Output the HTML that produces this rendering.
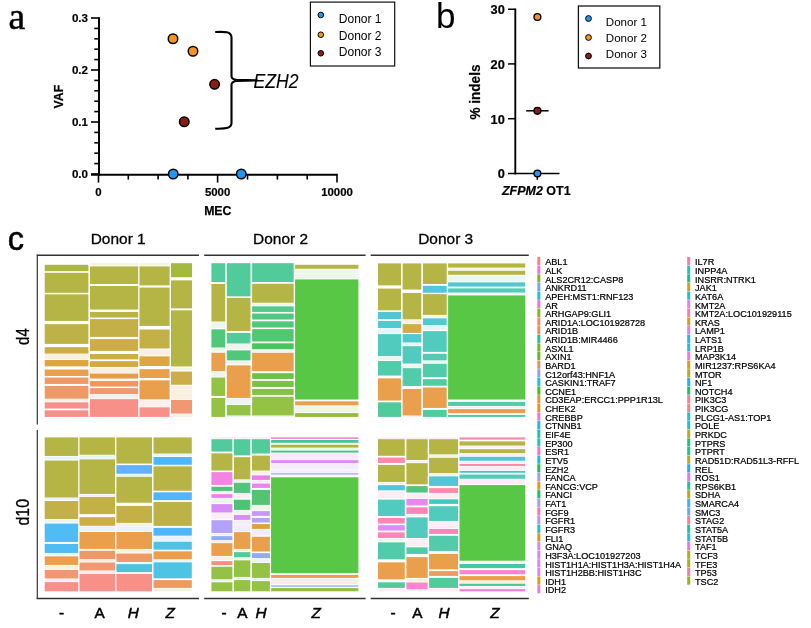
<!DOCTYPE html>
<html lang="en"><head><meta charset="utf-8"><title>Figure</title>
<style>html,body{margin:0;padding:0;background:#fff}svg{display:block}text{font-family:"Liberation Sans",sans-serif;fill:#000}.b{font-weight:bold}.i{font-style:italic}.g{font-size:9.15px;stroke:#000;stroke-width:0.22px}</style></head><body>
<svg width="811" height="628" viewBox="0 0 811 628">
<rect width="811" height="628" fill="#fff"/>
<text x="8.4" y="29" style="font-family:'Liberation Serif',serif;font-size:37.5px;stroke:#000;stroke-width:0.5px">a</text>
<g stroke="#000" stroke-width="1.6" fill="none">
<path d="M99.0,17.3V175.6" stroke-width="2"/>
<path d="M91,174.75H337.75" stroke-width="1.9"/>
<path d="M91,18.00H99.0"/>
<path d="M91,70.00H99.0"/>
<path d="M91,122.00H99.0"/>
<path d="M91,174.00H99.0"/>
<path d="M94.3,28.40H99.0"/>
<path d="M94.3,38.80H99.0"/>
<path d="M94.3,49.20H99.0"/>
<path d="M94.3,59.60H99.0"/>
<path d="M94.3,80.40H99.0"/>
<path d="M94.3,90.80H99.0"/>
<path d="M94.3,101.20H99.0"/>
<path d="M94.3,111.60H99.0"/>
<path d="M94.3,132.40H99.0"/>
<path d="M94.3,142.80H99.0"/>
<path d="M94.3,153.20H99.0"/>
<path d="M94.3,163.60H99.0"/>
<path d="M98.5,174.75V182.6"/>
<path d="M217.6,174.75V182.6"/>
<path d="M337,174.75V182.6"/>
<path d="M128.3,174.75V179.6"/>
<path d="M158.1,174.75V179.6"/>
<path d="M187.9,174.75V179.6"/>
<path d="M247.5,174.75V179.6"/>
<path d="M277.4,174.75V179.6"/>
<path d="M307.2,174.75V179.6"/>
</g>
<text class="b" x="88" y="21.9" text-anchor="end" font-size="11.6" stroke="#000" stroke-width="0.2">0.3</text>
<text class="b" x="88" y="73.9" text-anchor="end" font-size="11.6" stroke="#000" stroke-width="0.2">0.2</text>
<text class="b" x="88" y="125.9" text-anchor="end" font-size="11.6" stroke="#000" stroke-width="0.2">0.1</text>
<text class="b" x="88" y="177.9" text-anchor="end" font-size="11.6" stroke="#000" stroke-width="0.2">0.0</text>
<text class="b" x="98.5" y="195.6" text-anchor="middle" font-size="11.4" stroke="#000" stroke-width="0.2">0</text>
<text class="b" x="217.6" y="195.6" text-anchor="middle" font-size="11.4" stroke="#000" stroke-width="0.2">5000</text>
<text class="b" x="337" y="195.6" text-anchor="middle" font-size="11.4" stroke="#000" stroke-width="0.2">10000</text>
<text class="b" x="217.8" y="215" text-anchor="middle" font-size="12.3" stroke="#000" stroke-width="0.25">MEC</text>
<text class="b" transform="translate(63.2,96.6) rotate(-90)" text-anchor="middle" font-size="12.3" stroke="#000" stroke-width="0.25">VAF</text>
<path d="M215.2,32 C224,31.6 231.5,31.2 231.5,37.5 V76.5 Q231.7,79.3 236.5,79.8 L257,80.4 L236.5,81 Q231.7,81.6 231.5,84.5 V123 C231.5,129 224,128.4 215.2,128.8" fill="none" stroke="#000" stroke-width="2.1" stroke-linejoin="round" stroke-linecap="butt"/>
<text class="i" x="253.6" y="87.9" font-size="20" textLength="45" lengthAdjust="spacingAndGlyphs" stroke="#000" stroke-width="0.15">EZH2</text>
<circle cx="173" cy="38.75" r="4.75" fill="#f7941d" stroke="#000" stroke-width="1.5"/>
<circle cx="193" cy="51.25" r="4.75" fill="#f7941d" stroke="#000" stroke-width="1.5"/>
<circle cx="214.6" cy="84.3" r="4.75" fill="#8c1c12" stroke="#000" stroke-width="1.5"/>
<circle cx="184.25" cy="121.75" r="4.75" fill="#8c1c12" stroke="#000" stroke-width="1.5"/>
<circle cx="173.25" cy="174" r="4.75" fill="#2196f3" stroke="#000" stroke-width="1.5"/>
<circle cx="241.25" cy="174" r="4.75" fill="#2196f3" stroke="#000" stroke-width="1.5"/>
<rect x="310.4" y="2.1" width="84.3" height="63.9" fill="#fff" stroke="#111" stroke-width="1.2"/>
<circle cx="320.8" cy="15" r="2.8" fill="#2196f3" stroke="#000" stroke-width="1"/>
<text x="338.8" y="23.3" font-size="12">Donor 1</text>
<circle cx="320.8" cy="34.75" r="2.8" fill="#f7941d" stroke="#000" stroke-width="1"/>
<text x="338.8" y="39.5" font-size="12">Donor 2</text>
<circle cx="320.8" cy="53.25" r="2.8" fill="#8c1c12" stroke="#000" stroke-width="1"/>
<text x="338.8" y="55.6" font-size="12">Donor 3</text>
<text x="436" y="28" font-size="35">b</text>
<g stroke="#000" stroke-width="1.5" fill="none">
<path d="M515.3,8.5V174.4" stroke-width="1.9"/>
<path d="M508,173.5H559.5" stroke-width="1.7"/>
<path d="M508,9.25H515.3"/>
<path d="M508,63.9H515.3"/>
<path d="M508,118.7H515.3"/>
<path d="M537.3,173.5V179.8"/>
</g>
<text class="b" x="504.8" y="14.1" text-anchor="end" font-size="12.8" stroke="#000" stroke-width="0.2">30</text>
<text class="b" x="504.8" y="68.7" text-anchor="end" font-size="12.8" stroke="#000" stroke-width="0.2">20</text>
<text class="b" x="504.8" y="123.5" text-anchor="end" font-size="12.8" stroke="#000" stroke-width="0.2">10</text>
<text class="b" x="504.8" y="178.1" text-anchor="end" font-size="12.8" stroke="#000" stroke-width="0.2">0</text>
<text class="b" transform="translate(479.9,119.4) rotate(-90)" font-size="14.8" textLength="54.8" lengthAdjust="spacingAndGlyphs" stroke="#000" stroke-width="0.2">% indels</text>
<text class="b" x="502" y="194.6" font-size="12" textLength="68.6" lengthAdjust="spacingAndGlyphs" stroke="#000" stroke-width="0.2"><tspan class="i">ZFPM2</tspan> OT1</text>
<path d="M526.2,110.8H548.6" stroke="#000" stroke-width="1.5"/>
<circle cx="537.4" cy="17" r="3.4" fill="#f7941d" stroke="#000" stroke-width="1.4"/>
<circle cx="537.4" cy="110.8" r="3.4" fill="#8c1c12" stroke="#000" stroke-width="1.4"/>
<circle cx="537.4" cy="173.5" r="3.4" fill="#2196f3" stroke="#000" stroke-width="1.4"/>
<rect x="578.4" y="6" width="81.4" height="62" fill="#fff" stroke="#111" stroke-width="1.25"/>
<circle cx="588.5" cy="18.5" r="2.9" fill="#2196f3" stroke="#000" stroke-width="1"/>
<text x="605.8" y="26.2" font-size="11.6">Donor 1</text>
<circle cx="588.5" cy="37.5" r="2.9" fill="#f7941d" stroke="#000" stroke-width="1"/>
<text x="605.8" y="41.9" font-size="11.6">Donor 2</text>
<circle cx="588.5" cy="56" r="2.9" fill="#8c1c12" stroke="#000" stroke-width="1"/>
<text x="605.8" y="57.7" font-size="11.6">Donor 3</text>
<text x="7.8" y="249.6" font-size="32.5" stroke="#000" stroke-width="0.55">c</text>
<text x="118.2" y="244.3" text-anchor="middle" font-size="15.4" textLength="55" lengthAdjust="spacingAndGlyphs" stroke="#000" stroke-width="0.3">Donor 1</text>
<text x="280.6" y="244.3" text-anchor="middle" font-size="15.4" textLength="55" lengthAdjust="spacingAndGlyphs" stroke="#000" stroke-width="0.3">Donor 2</text>
<text x="445.7" y="244.3" text-anchor="middle" font-size="15.4" textLength="55" lengthAdjust="spacingAndGlyphs" stroke="#000" stroke-width="0.3">Donor 3</text>
<g stroke="#333" stroke-width="1.2" fill="none">
<path d="M37.3,254.7V424.6"/><path d="M37.3,430V599"/>
<path d="M36.7,255.35H199" stroke-width="1.5"/><path d="M36.7,598.5H199" stroke-width="1.3"/>
<path d="M204.2,255.35H365.6" stroke-width="1.5"/><path d="M204.2,598.5H365.6" stroke-width="1.3"/>
<path d="M370.7,255.35H528.8" stroke-width="1.5"/><path d="M370.7,598.5H528.8" stroke-width="1.3"/>
</g>
<text transform="translate(29.3,344.9) rotate(-90)" font-size="18" textLength="16.6" lengthAdjust="spacingAndGlyphs" stroke="#000" stroke-width="0.3">d4</text>
<text transform="translate(29.3,525.5) rotate(-90)" font-size="18" textLength="26.6" lengthAdjust="spacingAndGlyphs" stroke="#000" stroke-width="0.3">d10</text>
<text x="61.6" y="617.6" text-anchor="middle" font-size="15.3" stroke="#000" stroke-width="0.5">-</text>
<text x="99.5" y="617.6" text-anchor="middle" font-size="15.3" stroke="#000" stroke-width="0.5">A</text>
<text class="i" x="133.3" y="617.6" text-anchor="middle" font-size="15.3" stroke="#000" stroke-width="0.5">H</text>
<text class="i" x="170.2" y="617.6" text-anchor="middle" font-size="15.3" stroke="#000" stroke-width="0.5">Z</text>
<text x="224" y="617.6" text-anchor="middle" font-size="15.3" stroke="#000" stroke-width="0.5">-</text>
<text x="242.4" y="617.6" text-anchor="middle" font-size="15.3" stroke="#000" stroke-width="0.5">A</text>
<text class="i" x="261" y="617.6" text-anchor="middle" font-size="15.3" stroke="#000" stroke-width="0.5">H</text>
<text class="i" x="316.3" y="617.6" text-anchor="middle" font-size="15.3" stroke="#000" stroke-width="0.5">Z</text>
<text x="393" y="617.6" text-anchor="middle" font-size="15.3" stroke="#000" stroke-width="0.5">-</text>
<text x="417.4" y="617.6" text-anchor="middle" font-size="15.3" stroke="#000" stroke-width="0.5">A</text>
<text class="i" x="444" y="617.6" text-anchor="middle" font-size="15.3" stroke="#000" stroke-width="0.5">H</text>
<text class="i" x="495" y="617.6" text-anchor="middle" font-size="15.3" stroke="#000" stroke-width="0.5">Z</text>
<g shape-rendering="auto">
<rect x="44.70" y="264.79" width="43.70" height="6.39" fill="#aab741"/>
<rect x="44.70" y="272.78" width="43.70" height="19.98" fill="#b5b545"/>
<rect x="44.70" y="294.36" width="43.70" height="26.57" fill="#b5b545"/>
<rect x="44.70" y="324.12" width="43.70" height="19.78" fill="#bdb247"/>
<rect x="44.70" y="347.19" width="43.70" height="6.39" fill="#ccad47"/>
<rect x="44.70" y="353.98" width="43.70" height="5.39" fill="#f9f0e2"/>
<rect x="44.70" y="359.98" width="43.70" height="6.39" fill="#dca644"/>
<rect x="44.70" y="369.56" width="43.70" height="6.39" fill="#e99f4b"/>
<rect x="44.70" y="377.55" width="43.70" height="6.39" fill="#ef9a66"/>
<rect x="44.70" y="385.94" width="43.70" height="12.78" fill="#ef9a66"/>
<rect x="44.70" y="399.13" width="43.70" height="2.40" fill="#fdefeb"/>
<rect x="44.70" y="402.33" width="43.70" height="6.19" fill="#f8908a"/>
<rect x="44.70" y="410.32" width="43.70" height="6.59" fill="#f8908a"/>
<rect x="90.00" y="262.80" width="48.20" height="2.80" fill="#f3f5e4"/>
<rect x="90.00" y="266.39" width="48.20" height="17.58" fill="#b5b545"/>
<rect x="90.00" y="285.97" width="48.20" height="23.57" fill="#b5b545"/>
<rect x="90.00" y="311.94" width="48.20" height="5.59" fill="#bdb247"/>
<rect x="90.00" y="319.13" width="48.20" height="17.78" fill="#c3b148"/>
<rect x="90.00" y="339.11" width="48.20" height="11.79" fill="#ccad47"/>
<rect x="90.00" y="353.98" width="48.20" height="5.39" fill="#ccad47"/>
<rect x="90.00" y="361.17" width="48.20" height="5.79" fill="#d4a843"/>
<rect x="90.00" y="367.97" width="48.20" height="4.99" fill="#f9f0e2"/>
<rect x="90.00" y="373.56" width="48.20" height="4.99" fill="#e79c45"/>
<rect x="90.00" y="380.95" width="48.20" height="5.59" fill="#ee9860"/>
<rect x="90.00" y="388.14" width="48.20" height="5.79" fill="#f19873"/>
<rect x="90.00" y="394.33" width="48.20" height="4.19" fill="#fdefeb"/>
<rect x="90.00" y="399.13" width="48.20" height="17.78" fill="#f8908a"/>
<rect x="139.50" y="262.80" width="30.10" height="2.80" fill="#f3f5e4"/>
<rect x="139.50" y="266.39" width="30.10" height="18.98" fill="#b5b545"/>
<rect x="139.50" y="287.57" width="30.10" height="38.35" fill="#b5b545"/>
<rect x="139.50" y="329.52" width="30.10" height="18.98" fill="#c3b148"/>
<rect x="139.50" y="349.59" width="30.10" height="5.99" fill="#f9f0e2"/>
<rect x="139.50" y="356.38" width="30.10" height="9.59" fill="#dca644"/>
<rect x="139.50" y="369.17" width="30.10" height="8.79" fill="#e99f4b"/>
<rect x="139.50" y="380.35" width="30.10" height="18.98" fill="#e99f4b"/>
<rect x="139.50" y="399.93" width="30.10" height="6.59" fill="#fdefeb"/>
<rect x="139.50" y="407.32" width="30.10" height="9.59" fill="#f8908a"/>
<rect x="171.00" y="263.20" width="21.00" height="13.98" fill="#a3b940"/>
<rect x="171.00" y="280.38" width="21.00" height="27.97" fill="#b5b545"/>
<rect x="171.00" y="310.34" width="21.00" height="56.13" fill="#b5b545"/>
<rect x="171.00" y="367.57" width="21.00" height="2.80" fill="#f3f5e4"/>
<rect x="171.00" y="371.56" width="21.00" height="13.18" fill="#ccad47"/>
<rect x="171.00" y="385.55" width="21.00" height="4.00" fill="#f9f0e2"/>
<rect x="171.00" y="389.94" width="21.00" height="9.19" fill="#f9f0e2"/>
<rect x="171.00" y="399.93" width="21.00" height="13.58" fill="#f19873"/>
<rect x="171.00" y="414.31" width="21.00" height="2.60" fill="#fdefeb"/>
<rect x="44.70" y="437.39" width="33.50" height="18.58" fill="#b5b545"/>
<rect x="44.70" y="456.57" width="33.50" height="3.00" fill="#e6f4fb"/>
<rect x="44.70" y="460.57" width="33.50" height="36.96" fill="#b5b545"/>
<rect x="44.70" y="498.12" width="33.50" height="2.00" fill="#e6f4fb"/>
<rect x="44.70" y="501.00" width="33.50" height="17.98" fill="#c3b148"/>
<rect x="44.70" y="519.38" width="33.50" height="3.20" fill="#e6f4fb"/>
<rect x="44.70" y="523.57" width="33.50" height="18.38" fill="#4fbdf3"/>
<rect x="44.70" y="543.95" width="33.50" height="8.99" fill="#4fbdf3"/>
<rect x="44.70" y="553.34" width="33.50" height="2.20" fill="#e6f4fb"/>
<rect x="44.70" y="556.33" width="33.50" height="8.59" fill="#e99f4b"/>
<rect x="44.70" y="565.52" width="33.50" height="3.40" fill="#f9f0e2"/>
<rect x="44.70" y="569.92" width="33.50" height="8.59" fill="#f19873"/>
<rect x="44.70" y="579.11" width="33.50" height="2.20" fill="#fdefeb"/>
<rect x="44.70" y="582.10" width="33.50" height="9.19" fill="#f8908a"/>
<rect x="79.50" y="437.39" width="35.60" height="17.38" fill="#b5b545"/>
<rect x="79.50" y="455.37" width="35.60" height="3.20" fill="#e6f4fb"/>
<rect x="79.50" y="459.37" width="35.60" height="34.56" fill="#b5b545"/>
<rect x="79.50" y="494.52" width="35.60" height="1.80" fill="#e6f4fb"/>
<rect x="79.50" y="496.92" width="35.60" height="17.18" fill="#c3b148"/>
<rect x="79.50" y="517.18" width="35.60" height="8.59" fill="#ccad47"/>
<rect x="79.50" y="526.37" width="35.60" height="4.59" fill="#e6f4fb"/>
<rect x="79.50" y="531.96" width="35.60" height="16.98" fill="#e99f4b"/>
<rect x="79.50" y="550.74" width="35.60" height="8.39" fill="#ef9a66"/>
<rect x="79.50" y="559.53" width="35.60" height="2.40" fill="#f9f0e2"/>
<rect x="79.50" y="562.52" width="35.60" height="7.99" fill="#f19873"/>
<rect x="79.50" y="570.91" width="35.60" height="2.20" fill="#fdefeb"/>
<rect x="79.50" y="573.91" width="35.60" height="17.38" fill="#f8908a"/>
<rect x="116.40" y="437.39" width="35.60" height="26.17" fill="#b5b545"/>
<rect x="116.40" y="465.16" width="35.60" height="8.59" fill="#62b0ff"/>
<rect x="116.40" y="474.15" width="35.60" height="1.80" fill="#e6f4fb"/>
<rect x="116.40" y="476.75" width="35.60" height="25.97" fill="#b5b545"/>
<rect x="116.40" y="505.91" width="35.60" height="16.98" fill="#c3b148"/>
<rect x="116.40" y="523.49" width="35.60" height="2.40" fill="#f9f0e2"/>
<rect x="116.40" y="526.29" width="35.60" height="4.59" fill="#e6f4fb"/>
<rect x="116.40" y="531.96" width="35.60" height="16.98" fill="#e99f4b"/>
<rect x="116.40" y="549.54" width="35.60" height="3.20" fill="#f9f0e2"/>
<rect x="116.40" y="553.54" width="35.60" height="8.39" fill="#ef9a66"/>
<rect x="116.40" y="562.33" width="35.60" height="1.20" fill="#e6f4fb"/>
<rect x="116.40" y="564.12" width="35.60" height="7.99" fill="#4fc3de"/>
<rect x="116.40" y="573.91" width="35.60" height="17.38" fill="#f8908a"/>
<rect x="153.50" y="437.39" width="38.30" height="16.18" fill="#b5b545"/>
<rect x="153.50" y="454.17" width="38.30" height="2.00" fill="#e6f4fb"/>
<rect x="153.50" y="456.97" width="38.30" height="7.79" fill="#4fb6fb"/>
<rect x="153.50" y="466.36" width="38.30" height="24.37" fill="#b8b345"/>
<rect x="153.50" y="492.33" width="38.30" height="7.79" fill="#4fb6fb"/>
<rect x="153.50" y="501.92" width="38.30" height="23.97" fill="#bdb247"/>
<rect x="153.50" y="527.88" width="38.30" height="7.79" fill="#4fb6fb"/>
<rect x="153.50" y="536.27" width="38.30" height="4.59" fill="#e6f4fb"/>
<rect x="153.50" y="541.67" width="38.30" height="7.99" fill="#4fc1e8"/>
<rect x="153.50" y="551.34" width="38.30" height="7.99" fill="#e99f4b"/>
<rect x="153.50" y="559.93" width="38.30" height="1.60" fill="#e6f4fb"/>
<rect x="153.50" y="562.33" width="38.30" height="15.98" fill="#4fc3e4"/>
<rect x="153.50" y="580.10" width="38.30" height="7.79" fill="#ef9a66"/>
<rect x="153.50" y="588.49" width="38.30" height="2.80" fill="#f9f0e2"/>
<rect x="211.40" y="263.20" width="13.80" height="18.78" fill="#52cb9b"/>
<rect x="211.40" y="283.97" width="13.80" height="37.55" fill="#b5b545"/>
<rect x="211.40" y="322.33" width="13.80" height="5.59" fill="#ecf6ea"/>
<rect x="211.40" y="329.32" width="13.80" height="18.18" fill="#50c87a"/>
<rect x="211.40" y="348.19" width="13.80" height="3.40" fill="#ecf6ea"/>
<rect x="211.40" y="352.78" width="13.80" height="18.38" fill="#e99f4b"/>
<rect x="211.40" y="371.96" width="13.80" height="4.79" fill="#ecf6ea"/>
<rect x="211.40" y="377.55" width="13.80" height="18.38" fill="#93c244"/>
<rect x="211.40" y="397.93" width="13.80" height="18.98" fill="#93c244"/>
<rect x="226.80" y="263.20" width="23.70" height="33.16" fill="#52cb9b"/>
<rect x="226.80" y="297.95" width="23.70" height="32.96" fill="#b5b545"/>
<rect x="226.80" y="332.91" width="23.70" height="10.59" fill="#52cb9b"/>
<rect x="226.80" y="344.10" width="23.70" height="4.79" fill="#ecf6ea"/>
<rect x="226.80" y="350.39" width="23.70" height="9.99" fill="#50c87a"/>
<rect x="226.80" y="361.17" width="23.70" height="3.20" fill="#ecf6ea"/>
<rect x="226.80" y="365.37" width="23.70" height="32.56" fill="#e99f4b"/>
<rect x="226.80" y="398.73" width="23.70" height="5.19" fill="#ecf6ea"/>
<rect x="226.80" y="404.92" width="23.70" height="10.59" fill="#93c244"/>
<rect x="226.80" y="415.91" width="23.70" height="1.00" fill="#ecf6ea"/>
<rect x="252.10" y="263.20" width="41.60" height="18.78" fill="#52cb9b"/>
<rect x="252.10" y="283.77" width="41.60" height="18.98" fill="#b5b545"/>
<rect x="252.10" y="303.35" width="41.60" height="2.20" fill="#ecf6ea"/>
<rect x="252.10" y="306.34" width="41.60" height="5.59" fill="#52cb8c"/>
<rect x="252.10" y="313.54" width="41.60" height="5.99" fill="#50c980"/>
<rect x="252.10" y="321.33" width="41.60" height="6.19" fill="#50c87a"/>
<rect x="252.10" y="329.12" width="41.60" height="12.39" fill="#50c870"/>
<rect x="252.10" y="343.30" width="41.60" height="5.99" fill="#48c55c"/>
<rect x="252.10" y="349.89" width="41.60" height="2.00" fill="#ecf6ea"/>
<rect x="252.10" y="352.78" width="41.60" height="18.38" fill="#e99f4b"/>
<rect x="252.10" y="373.16" width="41.60" height="5.79" fill="#6cc246"/>
<rect x="252.10" y="380.95" width="41.60" height="5.99" fill="#78c346"/>
<rect x="252.10" y="388.94" width="41.60" height="5.99" fill="#80c346"/>
<rect x="252.10" y="396.73" width="41.60" height="18.78" fill="#93c244"/>
<rect x="252.10" y="415.91" width="41.60" height="1.00" fill="#ecf6ea"/>
<rect x="295.10" y="264.79" width="63.30" height="4.00" fill="#b5b545"/>
<rect x="295.10" y="269.59" width="63.30" height="4.00" fill="#ecf6ea"/>
<rect x="295.10" y="273.98" width="63.30" height="4.39" fill="#ecf6ea"/>
<rect x="295.10" y="279.40" width="63.30" height="120.10" fill="#57c745"/>
<rect x="295.10" y="401.33" width="63.30" height="4.00" fill="#e99f4b"/>
<rect x="295.10" y="405.92" width="63.30" height="6.39" fill="#f3f5e4"/>
<rect x="295.10" y="413.11" width="63.30" height="3.80" fill="#93bd3c"/>
<rect x="211.40" y="437.19" width="21.00" height="1.60" fill="#fdeef6"/>
<rect x="211.40" y="439.19" width="21.00" height="12.39" fill="#52cb9b"/>
<rect x="211.40" y="453.37" width="21.00" height="17.18" fill="#b5b545"/>
<rect x="211.40" y="472.15" width="21.00" height="12.78" fill="#f284e4"/>
<rect x="211.40" y="486.73" width="21.00" height="4.19" fill="#4cc47c"/>
<rect x="211.40" y="491.33" width="21.00" height="2.20" fill="#ecf6ea"/>
<rect x="211.40" y="494.13" width="21.00" height="3.80" fill="#ec82ec"/>
<rect x="211.40" y="498.92" width="21.00" height="4.00" fill="#ecf6ea"/>
<rect x="211.40" y="504.11" width="21.00" height="8.39" fill="#d88cf8"/>
<rect x="211.40" y="513.30" width="21.00" height="5.59" fill="#fdeef6"/>
<rect x="211.40" y="520.18" width="21.00" height="12.78" fill="#b3a2fb"/>
<rect x="211.40" y="533.56" width="21.00" height="2.00" fill="#f3ecfd"/>
<rect x="211.40" y="536.16" width="21.00" height="4.00" fill="#93a8fb"/>
<rect x="211.40" y="540.75" width="21.00" height="1.80" fill="#f9f0e2"/>
<rect x="211.40" y="543.15" width="21.00" height="12.78" fill="#e99f4b"/>
<rect x="211.40" y="556.73" width="21.00" height="3.20" fill="#f9f0e2"/>
<rect x="211.40" y="561.13" width="21.00" height="4.00" fill="#f58f80"/>
<rect x="211.40" y="566.72" width="21.00" height="12.58" fill="#93c244"/>
<rect x="211.40" y="579.90" width="21.00" height="1.60" fill="#e6f4fb"/>
<rect x="211.40" y="582.30" width="21.00" height="8.99" fill="#93c244"/>
<rect x="234.00" y="437.19" width="16.30" height="1.60" fill="#fdeef6"/>
<rect x="234.00" y="439.19" width="16.30" height="16.18" fill="#52cb9b"/>
<rect x="234.00" y="457.17" width="16.30" height="22.17" fill="#b5b545"/>
<rect x="234.00" y="479.94" width="16.30" height="2.00" fill="#ecf6ea"/>
<rect x="234.00" y="482.74" width="16.30" height="10.19" fill="#52c47c"/>
<rect x="234.00" y="493.93" width="16.30" height="4.59" fill="#fdeef6"/>
<rect x="234.00" y="499.72" width="16.30" height="10.19" fill="#4cc474"/>
<rect x="234.00" y="510.51" width="16.30" height="3.60" fill="#ecf6ea"/>
<rect x="234.00" y="514.90" width="16.30" height="4.99" fill="#d88cf8"/>
<rect x="234.00" y="520.69" width="16.30" height="3.80" fill="#f3ecfd"/>
<rect x="234.00" y="525.09" width="16.30" height="5.79" fill="#f3ecfd"/>
<rect x="234.00" y="532.16" width="16.30" height="16.78" fill="#e99f4b"/>
<rect x="234.00" y="549.54" width="16.30" height="1.80" fill="#f9f0e2"/>
<rect x="234.00" y="552.14" width="16.30" height="5.19" fill="#52cb9b"/>
<rect x="234.00" y="557.93" width="16.30" height="1.60" fill="#ecf6ea"/>
<rect x="234.00" y="560.33" width="16.30" height="16.58" fill="#93c244"/>
<rect x="234.00" y="577.51" width="16.30" height="1.80" fill="#e6f4fb"/>
<rect x="234.00" y="580.10" width="16.30" height="11.19" fill="#93c244"/>
<rect x="251.90" y="437.19" width="18.00" height="1.60" fill="#fdeef6"/>
<rect x="251.90" y="439.19" width="18.00" height="14.38" fill="#52cb9b"/>
<rect x="251.90" y="455.57" width="18.00" height="14.98" fill="#b5b545"/>
<rect x="251.90" y="471.15" width="18.00" height="3.40" fill="#f3f5e4"/>
<rect x="251.90" y="475.35" width="18.00" height="4.59" fill="#ec80e8"/>
<rect x="251.90" y="480.54" width="18.00" height="2.40" fill="#fdeef6"/>
<rect x="251.90" y="483.54" width="18.00" height="4.39" fill="#ec84ee"/>
<rect x="251.90" y="489.93" width="18.00" height="14.98" fill="#52c474"/>
<rect x="251.90" y="505.51" width="18.00" height="4.79" fill="#ecf6ea"/>
<rect x="251.90" y="511.11" width="18.00" height="4.79" fill="#c898f8"/>
<rect x="251.90" y="517.90" width="18.00" height="4.59" fill="#b8a0f8"/>
<rect x="251.90" y="524.09" width="18.00" height="4.79" fill="#dea040"/>
<rect x="251.90" y="529.48" width="18.00" height="5.99" fill="#f3ecfd"/>
<rect x="251.90" y="536.76" width="18.00" height="14.78" fill="#e99f4b"/>
<rect x="251.90" y="553.14" width="18.00" height="4.99" fill="#93a8fb"/>
<rect x="251.90" y="558.73" width="18.00" height="3.20" fill="#ecf6ea"/>
<rect x="251.90" y="562.92" width="18.00" height="14.98" fill="#93c244"/>
<rect x="251.90" y="578.51" width="18.00" height="1.80" fill="#e6f4fb"/>
<rect x="251.90" y="581.10" width="18.00" height="10.19" fill="#93c244"/>
<rect x="271.10" y="437.19" width="87.30" height="1.80" fill="#f78ee0"/>
<rect x="271.10" y="439.99" width="87.30" height="2.80" fill="#45c890"/>
<rect x="271.10" y="444.78" width="87.30" height="2.80" fill="#b5b03c"/>
<rect x="271.10" y="447.98" width="87.30" height="2.00" fill="#ecf6ea"/>
<rect x="271.10" y="450.58" width="87.30" height="2.00" fill="#45c87c"/>
<rect x="271.10" y="453.37" width="87.30" height="6.19" fill="#fbeafc"/>
<rect x="271.10" y="460.17" width="87.30" height="2.80" fill="#e088f8"/>
<rect x="271.10" y="463.56" width="87.30" height="5.99" fill="#f3ecfd"/>
<rect x="271.10" y="470.35" width="87.30" height="2.20" fill="#f3ecfd"/>
<rect x="271.10" y="472.95" width="87.30" height="1.80" fill="#b9bcf8"/>
<rect x="271.10" y="477.30" width="87.30" height="95.80" fill="#57c745"/>
<rect x="271.10" y="574.91" width="87.30" height="3.00" fill="#e99f4b"/>
<rect x="271.10" y="578.71" width="87.30" height="5.59" fill="#f3f0e6"/>
<rect x="271.10" y="585.10" width="87.30" height="1.80" fill="#9cc8f8"/>
<rect x="271.10" y="588.09" width="87.30" height="3.20" fill="#93bd3c"/>
<rect x="378.00" y="263.40" width="23.00" height="21.97" fill="#b5b545"/>
<rect x="378.00" y="288.57" width="23.00" height="21.77" fill="#b5b545"/>
<rect x="378.00" y="311.94" width="23.00" height="7.19" fill="#52c6d8"/>
<rect x="378.00" y="320.93" width="23.00" height="7.19" fill="#52c8d0"/>
<rect x="378.00" y="328.92" width="23.00" height="4.00" fill="#e6f4fb"/>
<rect x="378.00" y="334.11" width="23.00" height="21.97" fill="#52cbbf"/>
<rect x="378.00" y="356.78" width="23.00" height="3.20" fill="#ecf6ea"/>
<rect x="378.00" y="360.97" width="23.00" height="14.58" fill="#52cbaa"/>
<rect x="378.00" y="378.35" width="23.00" height="22.17" fill="#e99f4b"/>
<rect x="378.00" y="402.33" width="23.00" height="14.58" fill="#52cb9c"/>
<rect x="402.60" y="263.40" width="18.70" height="26.17" fill="#b5b545"/>
<rect x="402.60" y="292.96" width="18.70" height="26.37" fill="#b5b545"/>
<rect x="402.60" y="319.93" width="18.70" height="3.40" fill="#f9f0e2"/>
<rect x="402.60" y="324.12" width="18.70" height="8.79" fill="#ccad47"/>
<rect x="402.60" y="334.11" width="18.70" height="8.39" fill="#52c8d0"/>
<rect x="402.60" y="343.10" width="18.70" height="2.00" fill="#e6f4fb"/>
<rect x="402.60" y="346.19" width="18.70" height="17.38" fill="#52cbbf"/>
<rect x="402.60" y="364.37" width="18.70" height="3.00" fill="#ecf6ea"/>
<rect x="402.60" y="368.17" width="18.70" height="17.78" fill="#52cbaa"/>
<rect x="402.60" y="388.94" width="18.70" height="26.57" fill="#e99f4b"/>
<rect x="402.60" y="415.91" width="18.70" height="1.00" fill="#f9f0e2"/>
<rect x="422.90" y="263.40" width="23.80" height="20.58" fill="#b5b545"/>
<rect x="422.90" y="285.77" width="23.80" height="6.99" fill="#52c6e0"/>
<rect x="422.90" y="294.16" width="23.80" height="20.78" fill="#b5b545"/>
<rect x="422.90" y="315.53" width="23.80" height="2.00" fill="#f3f5e4"/>
<rect x="422.90" y="318.33" width="23.80" height="6.79" fill="#52c8d0"/>
<rect x="422.90" y="325.72" width="23.80" height="4.19" fill="#e6f4fb"/>
<rect x="422.90" y="331.11" width="23.80" height="20.78" fill="#52cbbf"/>
<rect x="422.90" y="353.78" width="23.80" height="6.59" fill="#52cbb5"/>
<rect x="422.90" y="360.97" width="23.80" height="2.00" fill="#ecf6ea"/>
<rect x="422.90" y="363.77" width="23.80" height="13.38" fill="#52cbaa"/>
<rect x="422.90" y="379.15" width="23.80" height="6.59" fill="#52cba2"/>
<rect x="422.90" y="387.54" width="23.80" height="20.38" fill="#e99f4b"/>
<rect x="422.90" y="409.92" width="23.80" height="6.99" fill="#52cb9c"/>
<rect x="448.10" y="263.40" width="77.10" height="4.19" fill="#b5b545"/>
<rect x="448.10" y="268.19" width="77.10" height="1.80" fill="#f3f5e4"/>
<rect x="448.10" y="270.79" width="77.10" height="4.00" fill="#b5b545"/>
<rect x="448.10" y="275.58" width="77.10" height="5.99" fill="#ecf6f8"/>
<rect x="448.10" y="282.37" width="77.10" height="4.19" fill="#52c8c8"/>
<rect x="448.10" y="288.37" width="77.10" height="4.19" fill="#52cbb8"/>
<rect x="448.10" y="295.40" width="77.10" height="104.10" fill="#57c745"/>
<rect x="448.10" y="401.93" width="77.10" height="4.00" fill="#52cbaa"/>
<rect x="448.10" y="406.52" width="77.10" height="1.80" fill="#ecf6ea"/>
<rect x="448.10" y="409.12" width="77.10" height="4.00" fill="#e99f4b"/>
<rect x="448.10" y="414.91" width="77.10" height="2.00" fill="#52cb9c"/>
<rect x="378.00" y="437.39" width="26.80" height="1.60" fill="#fdeef6"/>
<rect x="378.00" y="439.19" width="26.80" height="16.58" fill="#b5b545"/>
<rect x="378.00" y="457.57" width="26.80" height="5.39" fill="#fc8aa8"/>
<rect x="378.00" y="464.96" width="26.80" height="16.98" fill="#b5b545"/>
<rect x="378.00" y="482.34" width="26.80" height="2.00" fill="#f3f5e4"/>
<rect x="378.00" y="485.14" width="26.80" height="5.19" fill="#52c6d8"/>
<rect x="378.00" y="491.13" width="26.80" height="6.79" fill="#fdeef6"/>
<rect x="378.00" y="499.60" width="26.80" height="16.38" fill="#52cbbf"/>
<rect x="378.00" y="517.98" width="26.80" height="5.59" fill="#fc86b8"/>
<rect x="378.00" y="525.17" width="26.80" height="5.39" fill="#e08cf8"/>
<rect x="378.00" y="532.36" width="26.80" height="5.59" fill="#fc86b8"/>
<rect x="378.00" y="538.75" width="26.80" height="2.60" fill="#ecf6ea"/>
<rect x="378.00" y="542.35" width="26.80" height="16.98" fill="#52cbaa"/>
<rect x="378.00" y="562.33" width="26.80" height="16.98" fill="#e99f4b"/>
<rect x="378.00" y="582.30" width="26.80" height="5.59" fill="#52cb9c"/>
<rect x="378.00" y="588.69" width="26.80" height="2.60" fill="#fdeef6"/>
<rect x="406.40" y="437.39" width="21.30" height="1.60" fill="#fdeef6"/>
<rect x="406.40" y="439.19" width="21.30" height="20.78" fill="#b5b545"/>
<rect x="406.40" y="460.57" width="21.30" height="1.80" fill="#f3f5e4"/>
<rect x="406.40" y="463.16" width="21.30" height="21.17" fill="#b5b545"/>
<rect x="406.40" y="486.14" width="21.30" height="6.39" fill="#52c47c"/>
<rect x="406.40" y="493.33" width="21.30" height="4.59" fill="#fdeef6"/>
<rect x="406.40" y="498.92" width="21.30" height="6.59" fill="#e888f0"/>
<rect x="406.40" y="507.31" width="21.30" height="6.59" fill="#fc86b8"/>
<rect x="406.40" y="514.50" width="21.30" height="1.80" fill="#fdeef6"/>
<rect x="406.40" y="517.38" width="21.30" height="20.58" fill="#52cbbf"/>
<rect x="406.40" y="538.75" width="21.30" height="7.19" fill="#fdeef6"/>
<rect x="406.40" y="547.34" width="21.30" height="6.59" fill="#52cbaa"/>
<rect x="406.40" y="557.13" width="21.30" height="20.78" fill="#e99f4b"/>
<rect x="406.40" y="578.71" width="21.30" height="2.80" fill="#f9f0e2"/>
<rect x="406.40" y="582.50" width="21.30" height="6.79" fill="#fc84d0"/>
<rect x="406.40" y="589.89" width="21.30" height="1.40" fill="#fdeef6"/>
<rect x="429.10" y="437.39" width="29.00" height="1.60" fill="#fdeef6"/>
<rect x="429.10" y="439.19" width="29.00" height="15.18" fill="#b5b545"/>
<rect x="429.10" y="454.97" width="29.00" height="2.00" fill="#f3f5e4"/>
<rect x="429.10" y="457.77" width="29.00" height="15.38" fill="#b5b545"/>
<rect x="429.10" y="473.75" width="29.00" height="1.80" fill="#f3f5e4"/>
<rect x="429.10" y="476.35" width="29.00" height="9.59" fill="#52c6d8"/>
<rect x="429.10" y="488.13" width="29.00" height="4.79" fill="#fc8aa8"/>
<rect x="429.10" y="493.53" width="29.00" height="4.99" fill="#fdeef6"/>
<rect x="429.10" y="499.32" width="29.00" height="4.59" fill="#45c8c0"/>
<rect x="429.10" y="506.19" width="29.00" height="14.78" fill="#52cbbf"/>
<rect x="429.10" y="521.57" width="29.00" height="6.39" fill="#fdeef6"/>
<rect x="429.10" y="528.97" width="29.00" height="4.99" fill="#fc84c0"/>
<rect x="429.10" y="535.76" width="29.00" height="15.18" fill="#52cbaa"/>
<rect x="429.10" y="553.94" width="29.00" height="15.38" fill="#e99f4b"/>
<rect x="429.10" y="571.11" width="29.00" height="4.79" fill="#ef9a60"/>
<rect x="429.10" y="577.91" width="29.00" height="9.99" fill="#52cb9c"/>
<rect x="429.10" y="588.69" width="29.00" height="2.60" fill="#fdeef6"/>
<rect x="459.50" y="437.39" width="65.70" height="2.20" fill="#fc8aa8"/>
<rect x="459.50" y="441.39" width="65.70" height="4.19" fill="#b5b545"/>
<rect x="459.50" y="446.18" width="65.70" height="2.20" fill="#fdeef6"/>
<rect x="459.50" y="449.18" width="65.70" height="4.00" fill="#b5b545"/>
<rect x="459.50" y="453.77" width="65.70" height="2.20" fill="#fdeef6"/>
<rect x="459.50" y="456.77" width="65.70" height="4.00" fill="#52c6d8"/>
<rect x="459.50" y="461.36" width="65.70" height="2.00" fill="#fdeef6"/>
<rect x="459.50" y="463.96" width="65.70" height="2.00" fill="#fc8aa8"/>
<rect x="459.50" y="466.56" width="65.70" height="3.80" fill="#fdeef6"/>
<rect x="459.50" y="470.95" width="65.70" height="1.80" fill="#45c8c4"/>
<rect x="459.50" y="474.55" width="65.70" height="4.19" fill="#52cbb8"/>
<rect x="459.50" y="479.34" width="65.70" height="4.99" fill="#fdeef6"/>
<rect x="459.50" y="485.10" width="65.70" height="75.60" fill="#57c745"/>
<rect x="459.50" y="563.92" width="65.70" height="4.19" fill="#45c8a8"/>
<rect x="459.50" y="570.12" width="65.70" height="4.19" fill="#fc84d0"/>
<rect x="459.50" y="576.11" width="65.70" height="4.19" fill="#e99f4b"/>
<rect x="459.50" y="580.90" width="65.70" height="2.20" fill="#f9f0e2"/>
<rect x="459.50" y="583.70" width="65.70" height="2.20" fill="#45c898"/>
<rect x="459.50" y="586.50" width="65.70" height="2.00" fill="#fdeef6"/>
<rect x="459.50" y="589.09" width="65.70" height="2.20" fill="#f880d8"/>
</g>
<g>
<rect x="537.3" y="257.00" width="3" height="8.23" fill="#F8766D" fill-opacity="0.9"/>
<text class="g" x="545.2" y="265.35">ABL1</text>
<rect x="537.3" y="265.63" width="3" height="8.23" fill="#F564E3" fill-opacity="0.9"/>
<text class="g" x="545.2" y="273.98">ALK</text>
<rect x="537.3" y="274.27" width="3" height="8.23" fill="#7CAE00" fill-opacity="0.9"/>
<text class="g" x="545.2" y="282.62">ALS2CR12:CASP8</text>
<rect x="537.3" y="282.90" width="3" height="8.23" fill="#619CFF" fill-opacity="0.9"/>
<text class="g" x="545.2" y="291.25">ANKRD11</text>
<rect x="537.3" y="291.54" width="3" height="8.23" fill="#00BCD8" fill-opacity="0.9"/>
<text class="g" x="545.2" y="299.89">APEH:MST1:RNF123</text>
<rect x="537.3" y="300.17" width="3" height="8.23" fill="#FF62BC" fill-opacity="0.9"/>
<text class="g" x="545.2" y="308.52">AR</text>
<rect x="537.3" y="308.80" width="3" height="8.23" fill="#7CAE00" fill-opacity="0.9"/>
<text class="g" x="545.2" y="317.15">ARHGAP9:GLI1</text>
<rect x="537.3" y="317.44" width="3" height="8.23" fill="#F37B59" fill-opacity="0.9"/>
<text class="g" x="545.2" y="325.79">ARID1A:LOC101928728</text>
<rect x="537.3" y="326.07" width="3" height="8.23" fill="#ED8141" fill-opacity="0.9"/>
<text class="g" x="545.2" y="334.42">ARID1B</text>
<rect x="537.3" y="334.71" width="3" height="8.23" fill="#00C08B" fill-opacity="0.9"/>
<text class="g" x="545.2" y="343.06">ARID1B:MIR4466</text>
<rect x="537.3" y="343.34" width="3" height="8.23" fill="#6BB100" fill-opacity="0.9"/>
<text class="g" x="545.2" y="351.69">ASXL1</text>
<rect x="537.3" y="351.97" width="3" height="8.23" fill="#5BB300" fill-opacity="0.9"/>
<text class="g" x="545.2" y="360.32">AXIN1</text>
<rect x="537.3" y="360.61" width="3" height="8.23" fill="#EE8044" fill-opacity="0.9"/>
<text class="g" x="545.2" y="368.96">BARD1</text>
<rect x="537.3" y="369.24" width="3" height="8.23" fill="#7F96FF" fill-opacity="0.9"/>
<text class="g" x="545.2" y="377.59">C12orf43:HNF1A</text>
<rect x="537.3" y="377.88" width="3" height="8.23" fill="#00B8E5" fill-opacity="0.9"/>
<text class="g" x="545.2" y="386.23">CASKIN1:TRAF7</text>
<rect x="537.3" y="386.51" width="3" height="8.23" fill="#39B600" fill-opacity="0.9"/>
<text class="g" x="545.2" y="394.86">CCNE1</text>
<rect x="537.3" y="395.14" width="3" height="8.23" fill="#E7861B" fill-opacity="0.9"/>
<text class="g" x="545.2" y="403.49">CD3EAP:ERCC1:PPP1R13L</text>
<rect x="537.3" y="403.78" width="3" height="8.23" fill="#E08B00" fill-opacity="0.9"/>
<text class="g" x="545.2" y="412.13">CHEK2</text>
<rect x="537.3" y="412.41" width="3" height="8.23" fill="#FF61C9" fill-opacity="0.9"/>
<text class="g" x="545.2" y="420.76">CREBBP</text>
<rect x="537.3" y="421.05" width="3" height="8.23" fill="#00B4F0" fill-opacity="0.9"/>
<text class="g" x="545.2" y="429.40">CTNNB1</text>
<rect x="537.3" y="429.68" width="3" height="8.23" fill="#00C19F" fill-opacity="0.9"/>
<text class="g" x="545.2" y="438.03">EIF4E</text>
<rect x="537.3" y="438.31" width="3" height="8.23" fill="#00C0AF" fill-opacity="0.9"/>
<text class="g" x="545.2" y="446.66">EP300</text>
<rect x="537.3" y="446.95" width="3" height="8.23" fill="#FF64B0" fill-opacity="0.9"/>
<text class="g" x="545.2" y="455.30">ESR1</text>
<rect x="537.3" y="455.58" width="3" height="8.23" fill="#00B6EB" fill-opacity="0.9"/>
<text class="g" x="545.2" y="463.93">ETV5</text>
<rect x="537.3" y="464.22" width="3" height="8.23" fill="#00BA38" fill-opacity="0.9"/>
<text class="g" x="545.2" y="472.57">EZH2</text>
<rect x="537.3" y="472.85" width="3" height="8.23" fill="#9590FF" fill-opacity="0.9"/>
<text class="g" x="545.2" y="481.20">FANCA</text>
<rect x="537.3" y="481.48" width="3" height="8.23" fill="#DE8C00" fill-opacity="0.9"/>
<text class="g" x="545.2" y="489.83">FANCG:VCP</text>
<rect x="537.3" y="490.12" width="3" height="8.23" fill="#00BC51" fill-opacity="0.9"/>
<text class="g" x="545.2" y="498.47">FANCI</text>
<rect x="537.3" y="498.75" width="3" height="8.23" fill="#9F8CFF" fill-opacity="0.9"/>
<text class="g" x="545.2" y="507.10">FAT1</text>
<rect x="537.3" y="507.39" width="3" height="8.23" fill="#FF65AC" fill-opacity="0.9"/>
<text class="g" x="545.2" y="515.74">FGF9</text>
<rect x="537.3" y="516.02" width="3" height="8.23" fill="#AC88FF" fill-opacity="0.9"/>
<text class="g" x="545.2" y="524.37">FGFR1</text>
<rect x="537.3" y="524.65" width="3" height="8.23" fill="#00C1A7" fill-opacity="0.9"/>
<text class="g" x="545.2" y="533.00">FGFR3</text>
<rect x="537.3" y="533.29" width="3" height="8.23" fill="#E08B00" fill-opacity="0.9"/>
<text class="g" x="545.2" y="541.64">FLI1</text>
<rect x="537.3" y="541.92" width="3" height="8.23" fill="#C77CFF" fill-opacity="0.9"/>
<text class="g" x="545.2" y="550.27">GNAQ</text>
<rect x="537.3" y="550.56" width="3" height="8.23" fill="#C77CFF" fill-opacity="0.9"/>
<text class="g" x="545.2" y="558.91">H3F3A:LOC101927203</text>
<rect x="537.3" y="559.19" width="3" height="8.23" fill="#D575FE" fill-opacity="0.9"/>
<text class="g" x="545.2" y="567.54">HIST1H1A:HIST1H3A:HIST1H4A</text>
<rect x="537.3" y="567.82" width="3" height="8.23" fill="#DC71FA" fill-opacity="0.9"/>
<text class="g" x="545.2" y="576.17">HIST1H2BB:HIST1H3C</text>
<rect x="537.3" y="576.46" width="3" height="8.23" fill="#D89000" fill-opacity="0.9"/>
<text class="g" x="545.2" y="584.81">IDH1</text>
<rect x="537.3" y="585.09" width="3" height="8.23" fill="#E76BF3" fill-opacity="0.9"/>
<text class="g" x="545.2" y="593.44">IDH2</text>
<rect x="687.2" y="257.00" width="3" height="8.23" fill="#FF6A98" fill-opacity="0.9"/>
<text class="g" x="695.0" y="265.35">IL7R</text>
<rect x="687.2" y="265.63" width="3" height="8.23" fill="#00C0B8" fill-opacity="0.9"/>
<text class="g" x="695.0" y="273.98">INPP4A</text>
<rect x="687.2" y="274.27" width="3" height="8.23" fill="#00BE6C" fill-opacity="0.9"/>
<text class="g" x="695.0" y="282.62">INSRR:NTRK1</text>
<rect x="687.2" y="282.90" width="3" height="8.23" fill="#D39200" fill-opacity="0.9"/>
<text class="g" x="695.0" y="291.25">JAK1</text>
<rect x="687.2" y="291.54" width="3" height="8.23" fill="#00BFC4" fill-opacity="0.9"/>
<text class="g" x="695.0" y="299.89">KAT6A</text>
<rect x="687.2" y="300.17" width="3" height="8.23" fill="#E36EF6" fill-opacity="0.9"/>
<text class="g" x="695.0" y="308.52">KMT2A</text>
<rect x="687.2" y="308.80" width="3" height="8.23" fill="#FF6C9A" fill-opacity="0.9"/>
<text class="g" x="695.0" y="317.15">KMT2A:LOC101929115</text>
<rect x="687.2" y="317.44" width="3" height="8.23" fill="#C99800" fill-opacity="0.9"/>
<text class="g" x="695.0" y="325.79">KRAS</text>
<rect x="687.2" y="326.07" width="3" height="8.23" fill="#EC69EF" fill-opacity="0.9"/>
<text class="g" x="695.0" y="334.42">LAMP1</text>
<rect x="687.2" y="334.71" width="3" height="8.23" fill="#00B0F6" fill-opacity="0.9"/>
<text class="g" x="695.0" y="343.06">LATS1</text>
<rect x="687.2" y="343.34" width="3" height="8.23" fill="#00BDD0" fill-opacity="0.9"/>
<text class="g" x="695.0" y="351.69">LRP1B</text>
<rect x="687.2" y="351.97" width="3" height="8.23" fill="#F066EA" fill-opacity="0.9"/>
<text class="g" x="695.0" y="360.32">MAP3K14</text>
<rect x="687.2" y="360.61" width="3" height="8.23" fill="#C49A00" fill-opacity="0.9"/>
<text class="g" x="695.0" y="368.96">MIR1237:RPS6KA4</text>
<rect x="687.2" y="369.24" width="3" height="8.23" fill="#BE9C00" fill-opacity="0.9"/>
<text class="g" x="695.0" y="377.59">MTOR</text>
<rect x="687.2" y="377.88" width="3" height="8.23" fill="#00ACFC" fill-opacity="0.9"/>
<text class="g" x="695.0" y="386.23">NF1</text>
<rect x="687.2" y="386.51" width="3" height="8.23" fill="#00BD5C" fill-opacity="0.9"/>
<text class="g" x="695.0" y="394.86">NOTCH4</text>
<rect x="687.2" y="395.14" width="3" height="8.23" fill="#FC717F" fill-opacity="0.9"/>
<text class="g" x="695.0" y="403.49">PIK3C3</text>
<rect x="687.2" y="403.78" width="3" height="8.23" fill="#FA7476" fill-opacity="0.9"/>
<text class="g" x="695.0" y="412.13">PIK3CG</text>
<rect x="687.2" y="412.41" width="3" height="8.23" fill="#00BBDA" fill-opacity="0.9"/>
<text class="g" x="695.0" y="420.76">PLCG1-AS1:TOP1</text>
<rect x="687.2" y="421.05" width="3" height="8.23" fill="#00BADE" fill-opacity="0.9"/>
<text class="g" x="695.0" y="429.40">POLE</text>
<rect x="687.2" y="429.68" width="3" height="8.23" fill="#B99E00" fill-opacity="0.9"/>
<text class="g" x="695.0" y="438.03">PRKDC</text>
<rect x="687.2" y="438.31" width="3" height="8.23" fill="#00BE70" fill-opacity="0.9"/>
<text class="g" x="695.0" y="446.66">PTPRS</text>
<rect x="687.2" y="446.95" width="3" height="8.23" fill="#00BF7D" fill-opacity="0.9"/>
<text class="g" x="695.0" y="455.30">PTPRT</text>
<rect x="687.2" y="455.58" width="3" height="8.23" fill="#B3A000" fill-opacity="0.9"/>
<text class="g" x="695.0" y="463.93">RAD51D:RAD51L3-RFFL</text>
<rect x="687.2" y="464.22" width="3" height="8.23" fill="#00A9FF" fill-opacity="0.9"/>
<text class="g" x="695.0" y="472.57">REL</text>
<rect x="687.2" y="472.85" width="3" height="8.23" fill="#F763E0" fill-opacity="0.9"/>
<text class="g" x="695.0" y="481.20">ROS1</text>
<rect x="687.2" y="481.48" width="3" height="8.23" fill="#00C08D" fill-opacity="0.9"/>
<text class="g" x="695.0" y="489.83">RPS6KB1</text>
<rect x="687.2" y="490.12" width="3" height="8.23" fill="#ACA300" fill-opacity="0.9"/>
<text class="g" x="695.0" y="498.47">SDHA</text>
<rect x="687.2" y="498.75" width="3" height="8.23" fill="#35A2FF" fill-opacity="0.9"/>
<text class="g" x="695.0" y="507.10">SMARCA4</text>
<rect x="687.2" y="507.39" width="3" height="8.23" fill="#529EFF" fill-opacity="0.9"/>
<text class="g" x="695.0" y="515.74">SMC3</text>
<rect x="687.2" y="516.02" width="3" height="8.23" fill="#FD6F87" fill-opacity="0.9"/>
<text class="g" x="695.0" y="524.37">STAG2</text>
<rect x="687.2" y="524.65" width="3" height="8.23" fill="#00C094" fill-opacity="0.9"/>
<text class="g" x="695.0" y="533.00">STAT5A</text>
<rect x="687.2" y="533.29" width="3" height="8.23" fill="#00BCD6" fill-opacity="0.9"/>
<text class="g" x="695.0" y="541.64">STAT5B</text>
<rect x="687.2" y="541.92" width="3" height="8.23" fill="#F365E6" fill-opacity="0.9"/>
<text class="g" x="695.0" y="550.27">TAF1</text>
<rect x="687.2" y="550.56" width="3" height="8.23" fill="#A5A500" fill-opacity="0.9"/>
<text class="g" x="695.0" y="558.91">TCF3</text>
<rect x="687.2" y="559.19" width="3" height="8.23" fill="#9DA700" fill-opacity="0.9"/>
<text class="g" x="695.0" y="567.54">TFE3</text>
<rect x="687.2" y="567.82" width="3" height="8.23" fill="#FE6E8A" fill-opacity="0.9"/>
<text class="g" x="695.0" y="576.17">TP53</text>
<rect x="687.2" y="576.46" width="3" height="8.23" fill="#93AA00" fill-opacity="0.9"/>
<text class="g" x="695.0" y="584.81">TSC2</text>
</g>
</svg></body></html>
